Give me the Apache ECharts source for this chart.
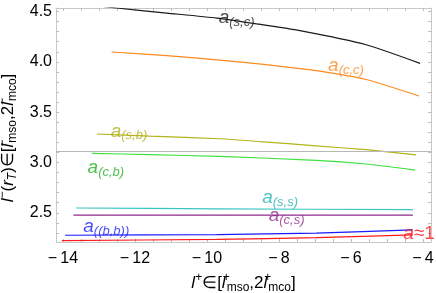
<!DOCTYPE html>
<html><head><meta charset="utf-8">
<script src="https://cdn.jsdelivr.net/npm/echarts@6/dist/echarts.min.js"></script>
<style>html,body{margin:0;padding:0;background:#fff}#c{width:436px;height:293px}</style>
</head><body><div id="c"></div>
<script>
// ---- data ----
const xTicks = [-14, -12, -10, -8, -6, -4];
const yTicks = [2.5, 3.0, 3.5, 4.0, 4.5];
const refLine = 3.114;

const scX = [-13.0, -12.51, -11.12, -9.73, -8.62, -7.42, -5.58, -4.08];
const scY = [4.555, 4.535, 4.485, 4.435, 4.378, 4.310, 4.170, 3.985];
const ccX = [-12.65, -11.12, -9.73, -8.36, -7.42, -6.69, -5.58, -4.11];
const ccY = [4.098, 4.062, 4.020, 3.972, 3.932, 3.898, 3.825, 3.661];
const sbX = [-13.06, -11.58, -9.64, -8.53, -6.97, -5.58, -4.19];
const sbY = [3.283, 3.262, 3.236, 3.208, 3.165, 3.127, 3.075];
const cbX = [-13.19, -11.58, -9.64, -6.97, -5.58, -4.22];
const cbY = [3.091, 3.078, 3.060, 3.022, 2.985, 2.925];
const ssX = [-13.64, -9.73, -4.28];
const ssY = [2.548, 2.540, 2.531];
const csX = [-13.71, -9.0, -4.28];
const csY = [2.477, 2.477, 2.477];
const bbX = [-13.94, -9.73, -6.97, -4.28];
const bbY = [2.277, 2.284, 2.298, 2.330];
const a1X = [-14.03, -9.73, -6.97, -4.28];
const a1Y = [2.223, 2.237, 2.253, 2.280];

const labelSub = ['(s,c)', '(c,c)', '(s,b)', '(c,b)', '(s,s)', '(c,s)', '((b,b))', '≈1'];
const labelX = [-9.69, -6.65, -12.69, -13.33, -8.48, -8.30, -13.45, -4.56];
const labelY = [4.440, 3.959, 3.310, 2.950, 2.652, 2.469, 2.359, 2.290];

// ---- styles ----
const FONT = "'Liberation Sans', Arial, sans-serif";
const lineColors = ['#1a1a1a', '#ff8a1e', '#b3b31a', '#3ee03e', '#3cc4c4', '#8e2a8e', '#1a1aff', '#ff1a1a'];
const labelColors = ['#1a1a1a', '#ff8a1e', '#b0b020', '#22b022', '#22b4b4', '#8e2a8e', '#1a1aff', '#ff1a1a'];
const frame = '#c8c8c8';

const xMin = -14.194, xMax = -3.778, yMin = 2.21, yMax = 4.535;
function steps(a, b, s) { const r = []; for (let v = a; v <= b + 1e-9; v += s) r.push(+v.toFixed(3)); return r; }
const xMinor = steps(-14, -4, 0.5);
const yMinor = steps(2.3, 4.5, 0.1);
const minus = v => (v < 0 ? '\u2212\u2009' + Math.abs(v) : String(v));

const titleRich = {
  n: { fontSize: 17, lineHeight: 22, fontFamily: FONT, color: '#000' },
  i: { fontSize: 17, lineHeight: 22, fontStyle: 'italic', fontFamily: FONT, color: '#000' },
  sp: { fontSize: 12, lineHeight: 9, verticalAlign: 'top', fontFamily: FONT, color: '#000' },
  spz: { fontSize: 12, lineHeight: 9, verticalAlign: 'top', width: 1, fontFamily: FONT, color: '#000' },
  sb: { fontSize: 12, lineHeight: 9, verticalAlign: 'bottom', fontFamily: FONT, color: '#000' },
  sbi: { fontSize: 12, lineHeight: 9, verticalAlign: 'bottom', fontStyle: 'italic', fontFamily: FONT, color: '#000' }
};

function mk(xs, ys) { return xs.map((x, i) => [x, ys[i]]); }
const curves = [[scX, scY], [ccX, ccY], [sbX, sbY], [cbX, cbY], [ssX, ssY], [csX, csY], [bbX, bbY], [a1X, a1Y]];

const series = curves.map((c, k) => ({
  type: 'line', data: mk(c[0], c[1]), smooth: 0.2, showSymbol: false, silent: true,
  lineStyle: { color: lineColors[k], width: 1.2 }, itemStyle: { color: lineColors[k] },
  xAxisIndex: 0, yAxisIndex: 0, z: 3
}));
series[0].markLine = {
  silent: true, symbol: 'none', label: { show: false },
  lineStyle: { color: '#b8b8b8', width: 1, type: 'solid' },
  data: [{ yAxis: refLine }]
};
series.push({
  type: 'scatter', symbolSize: 1, itemStyle: { color: 'rgba(0,0,0,0)' }, silent: true, z: 5,
  labelLayout: { hideOverlap: false },
  data: labelX.map((x, i) => ({
    value: [x, labelY[i]],
    label: {
      show: true, position: 'right', distance: 0, color: labelColors[i],
      formatter: labelSub[i] === '≈1' ? '{a|a}{n|≈1}' : '{a|a}{s|' + labelSub[i] + '}',
      rich: {
        a: { fontSize: 19, lineHeight: 22, fontStyle: 'italic', fontFamily: FONT, color: labelColors[i] },
        n: { fontSize: 19, lineHeight: 22, fontFamily: FONT, color: labelColors[i] },
        s: { fontSize: 13, lineHeight: 9, verticalAlign: 'bottom', fontStyle: 'italic', fontFamily: FONT, color: labelColors[i] }
      }
    }
  }))
});

const baseAxis = {
  type: 'value', splitLine: { show: false },
  axisLine: { show: true, onZero: false, lineStyle: { color: frame, width: 1 } },
  axisTick: { show: true, inside: true, length: 3, lineStyle: { color: '#bdbdbd' } }
};

const chart = echarts.init(document.getElementById('c'), null, { renderer: 'canvas' });
chart.setOption({
  animation: false, backgroundColor: '#fff',
  grid: { left: 56, right: 5, top: 8, bottom: 51, containLabel: false, outerBoundsMode: 'none' },
  xAxis: [
    Object.assign({}, baseAxis, {
      position: 'bottom', min: xMin, max: xMax,
      axisTick: Object.assign({}, baseAxis.axisTick, { customValues: xMinor }),
      axisLabel: { customValues: xTicks, formatter: minus, fontSize: 16, color: '#000', fontFamily: FONT, margin: 9 },
      name: '{i|l}{sp|+}{n|∈[}{i|l}{spz|+}{sb|mso}{n|,2}{i|l}{spz|+}{sb|mco}{n|]}',
      nameLocation: 'middle', nameGap: 26, nameTextStyle: { rich: titleRich, fontFamily: FONT }
    }),
    Object.assign({}, baseAxis, {
      position: 'top', min: xMin, max: xMax,
      axisTick: Object.assign({}, baseAxis.axisTick, { customValues: xMinor }),
      axisLabel: { show: false }
    })
  ],
  yAxis: [
    Object.assign({}, baseAxis, {
      position: 'left', min: yMin, max: yMax,
      axisTick: Object.assign({}, baseAxis.axisTick, { customValues: yMinor }),
      axisLabel: { customValues: yTicks, formatter: v => v.toFixed(1), fontSize: 16, color: '#000', fontFamily: FONT, margin: 4 },
      name: '{i|l}{sp|−}{n|(}{i|r}{sbi|T}{n|)∈[}{i|l}{spz|−}{sb|mso}{n|,2}{i|l}{spz|−}{sb|mco}{n|]}',
      nameLocation: 'middle', nameRotate: 90, nameGap: 33,
      nameTextStyle: { rich: titleRich, fontFamily: FONT, padding: [0, 26, 0, 0] }
    }),
    Object.assign({}, baseAxis, {
      position: 'right', min: yMin, max: yMax,
      axisTick: Object.assign({}, baseAxis.axisTick, { customValues: yMinor }),
      axisLabel: { show: false }
    })
  ],
  series: series
});
</script></body></html>
